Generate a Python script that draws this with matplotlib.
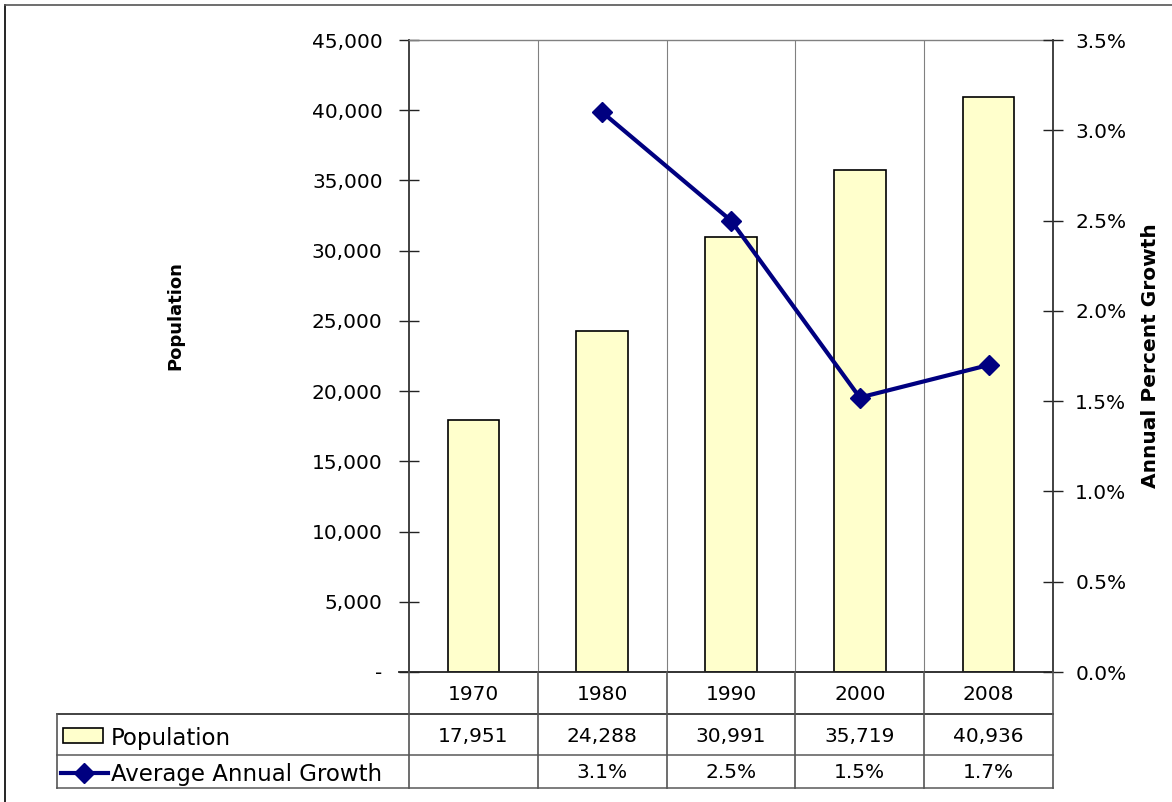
import matplotlib
matplotlib.use("Agg")
import matplotlib.pyplot as plt
from matplotlib.lines import Line2D
from matplotlib.patches import Rectangle

plt.rcParams['font.family'] = ['DejaVu Sans']

years = ["1970", "1980", "1990", "2000", "2008"]
population = [17951, 24288, 30991, 35719, 40936]
growth = [None, 3.1, 2.5, 1.52, 1.7]
left_ticks = [0, 5000, 10000, 15000, 20000, 25000, 30000, 35000, 40000, 45000]
right_ticks = [0.0, 0.5, 1.0, 1.5, 2.0, 2.5, 3.0, 3.5]

W, H = 1172, 802
fig = plt.figure(figsize=(W / 100, H / 100), dpi=100)

def fx(px):
    return px / W

def fy(py):
    return 1 - py / H

NUM_FS = 14.5
L, R, T, B = 409, 1053, 40, 672
ax = fig.add_axes([fx(L), fy(B), fx(R) - fx(L), fy(T) - fy(B)])
n = len(years)
xs = [i + 0.5 for i in range(n)]
ax.bar(xs, population, width=0.4, color="#FFFFCC", edgecolor="black", linewidth=1.2, zorder=3)
ax.set_xlim(0, n)
ax.set_ylim(0, 45000)
ax.set_yticks(left_ticks)
ax.set_yticklabels(["-" if v == 0 else f"{v:,}" for v in left_ticks], fontsize=NUM_FS)
ax.set_xticks([])
for i in range(1, n):
    ax.axvline(i, color="#808080", linewidth=0.8, zorder=1)
ax.tick_params(axis="y", direction="inout", length=14, width=1, pad=12, color="#222222", labelcolor="black")
for s in ["right", "bottom"]:
    ax.spines[s].set_visible(False)
ax.spines["left"].set_color("#333333")
ax.spines["left"].set_linewidth(1.3)
ax.spines["top"].set_color("#808080")
ax.spines["top"].set_linewidth(1)

ax2 = ax.twinx()
gx = [x for x, g in zip(xs, growth) if g is not None]
gy = [g for g in growth if g is not None]
ax2.plot(gx, gy, color="#000080", linewidth=3, marker="D", markersize=10, zorder=5)
ax2.set_ylim(0, 3.5)
ax2.set_yticks(right_ticks)
ax2.set_yticklabels([f"{v:.1f}%" for v in right_ticks], fontsize=NUM_FS)
ax2.tick_params(axis="y", direction="inout", length=14, width=1, pad=9, color="#222222", labelcolor="black")
for s in ["left", "top", "bottom"]:
    ax2.spines[s].set_visible(False)
ax2.spines["right"].set_color("#333333")
ax2.spines["right"].set_linewidth(1.3)

fig.text(fx(175), fy(316), "Population", rotation=90, ha="center", va="center",
         fontsize=13, fontweight="bold")
fig.text(fx(1150), fy(356), "Annual Percent Growth", rotation=90, ha="center", va="center",
         fontsize=14.5, fontweight="bold")

# Data table
col_edges = [L + (R - L) * i / n for i in range(n + 1)]
leg_left = 57

def hline(x0, x1, y, color="black", lw=1.2):
    fig.add_artist(Line2D([fx(x0), fx(x1)], [fy(y), fy(y)], color=color, linewidth=lw))

def vline(x, y0, y1, color="black", lw=1.2):
    fig.add_artist(Line2D([fx(x), fx(x)], [fy(y0), fy(y1)], color=color, linewidth=lw))

hline(L - 10, R, 672, color="#222222", lw=1.3)
hline(L, R, 714, color="#222222")
hline(leg_left, L, 714, color="#222222")
hline(leg_left, R, 755, color="#666666")
hline(leg_left, R, 788, color="#666666")
for x in col_edges:
    vline(x, 672, 788, color="#555555")
vline(leg_left, 714, 788, color="#555555")

for i, y in enumerate(years):
    cx = (col_edges[i] + col_edges[i + 1]) / 2
    fig.text(fx(cx), fy(694), y, ha="center", va="center", fontsize=NUM_FS)
    fig.text(fx(cx), fy(736), f"{population[i]:,}", ha="center", va="center", fontsize=NUM_FS)
    if growth[i] is not None:
        fig.text(fx(cx), fy(773), f"{growth[i]:.1f}%", ha="center", va="center", fontsize=NUM_FS)

fig.add_artist(Rectangle((fx(63), fy(743)), fx(103) - fx(63), fy(728) - fy(743),
                         facecolor="#FFFFCC", edgecolor="black", linewidth=1.2))
fig.text(fx(111), fy(738), "Population", ha="left", va="center", fontsize=16.5)
fig.add_artist(Line2D([fx(61), fx(108)], [fy(773), fy(773)], color="#000080", linewidth=3))
fig.add_artist(Line2D([fx(84)], [fy(773)], color="#000080", marker="D", markersize=10))
fig.text(fx(111), fy(774), "Average Annual Growth", ha="left", va="center", fontsize=16.5)

# Outer frame (left and top visible)
fig.add_artist(Line2D([fx(5), fx(5)], [fy(5), 0], color="black", linewidth=1.2))
fig.add_artist(Line2D([fx(5), 1], [fy(5), fy(5)], color="#555555", linewidth=1.2))

fig.savefig("out.png", dpi=100)
